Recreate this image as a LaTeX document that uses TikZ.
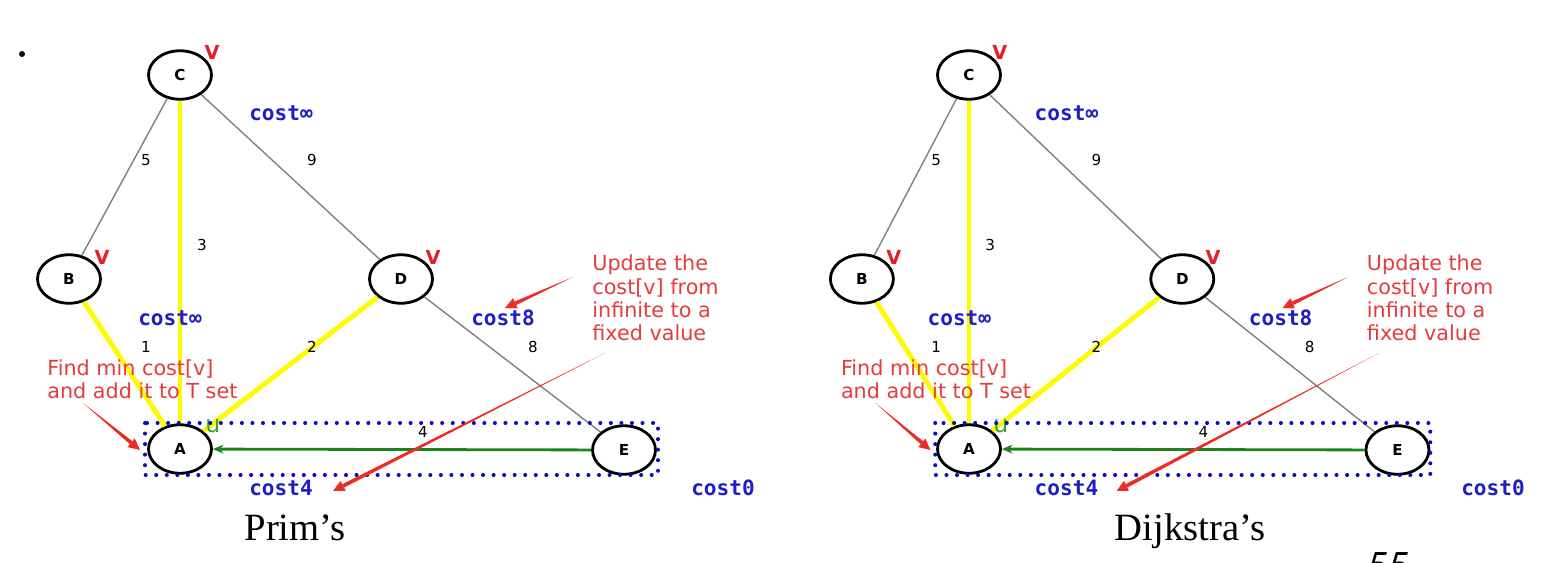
\documentclass[tikz,border=0pt]{standalone}
\usepackage{fontspec}
\setmainfont{Liberation Serif}
\setsansfont{DejaVu Sans}
\newfontfamily\costfont{DejaVu Sans Mono}
\newfontfamily\pagefont{Carlito}
\usetikzlibrary{shapes.geometric,arrows.meta,calc}
\definecolor{costblue}{RGB}{30,30,200}
\definecolor{dotblue}{RGB}{10,10,190}
\definecolor{markred}{RGB}{230,30,40}
\definecolor{notered}{RGB}{228,60,60}
\definecolor{arrowred}{RGB}{235,45,35}
\definecolor{pickgreen}{RGB}{30,130,30}
\definecolor{ugreen}{RGB}{60,160,60}
\definecolor{edgegray}{RGB}{128,128,128}
\definecolor{treeyellow}{RGB}{255,250,0}
\tikzset{
	% vertices of the graph
	vtx/.style={ellipse,draw=black,line width=1.6pt,fill=white,
		minimum width=1.26cm,minimum height=0.97cm,inner sep=0pt,
		font=\sffamily\bfseries\fontsize{8.6}{10}\selectfont},
	% edges not yet used, edges of the tree, the edge just picked
	lightedge/.style={draw=edgegray,line width=0.8pt},
	treeedge/.style={draw=treeyellow,line width=2.8pt},
	pickedge/.style={draw=pickgreen,line width=1.6pt,-{Stealth[length=6pt,width=5pt]}},
	% texts
	wlabel/.style={font=\sffamily\fontsize{8.6}{10}\selectfont},
	vmark/.style={text=markred,font=\sffamily\bfseries\fontsize{11}{12}\selectfont},
	costlbl/.style={text=costblue,font=\costfont\bfseries\fontsize{12}{13}\selectfont},
	note/.style={text=notered,align=left,anchor=west,inner sep=0pt,
		font=\sffamily\fontsize{11.8}{13.3}\selectfont},
	caption/.style={anchor=base,font=\fontsize{22}{26}\selectfont},
	% the T set
	tset/.style={draw=dotblue,line width=2.3pt,line cap=round,dash pattern=on 0pt off 6pt},
}
% red arrow getting thicker towards its tip
\newcommand{\notearrow}[2]{%
	\coordinate (nbase) at ($(#2)!6.5pt!(#1)$);
	\fill[arrowred] (#1) -- ($(nbase)!1.1pt!90:(#1)$) -- ($(nbase)!1.1pt!-90:(#1)$) -- cycle;
	\fill[arrowred] (#2) -- ($(nbase)!3.2pt!90:(#1)$) -- ($(nbase)!3.2pt!-90:(#1)$) -- cycle;
}
\begin{document}
\begin{tikzpicture}[x=0.02cm,y=-0.02cm]
	\useasboundingbox (0,0) rectangle (1545,562);
	\fill (22,54) circle (1.7pt);
	\foreach \p/\sx/\k in {L/180/1,R/969/0.965}{
	\begin{scope}[shift={(\sx,0)},xscale=\k,shift={(-180,0)}]
		\node[vtx] (C\p) at (180,75) {C};
		\node[vtx] (B\p) at (69,279) {B};
		\node[vtx] (D\p) at (401,279) {D};
		\node[vtx] (A\p) at (180,449) {A};
		\node[vtx] (E\p) at (624,450) {E};
		\draw[lightedge] (C\p) -- (B\p);
		\draw[lightedge] (C\p) -- (D\p);
		\draw[lightedge] (D\p) -- (E\p);
		\draw[treeedge] (C\p) -- (A\p);
		\draw[treeedge] (B\p) -- (A\p);
		\draw[treeedge] (D\p) -- (A\p);
		\draw[pickedge] (E\p) -- (A\p);
		\node[wlabel] (w5\p) at (146,160) {5};
		\node[wlabel] (w9\p) at (312,160) {9};
		\node[wlabel] (w3\p) at (202,245) {3};
		\node[wlabel] (w1\p) at (146,347) {1};
		\node[wlabel] (w2\p) at (312,347) {2};
		\node[wlabel] (w8\p) at (533,347) {8};
		\node[wlabel] (w4\p) at (423,432) {4};
		\node[vmark] (vc\p) at (212,52) {V};
		\node[vmark] (vb\p) at (102,257) {V};
		\node[vmark] (vd\p) at (433,257) {V};
		\node[text=ugreen,font=\sffamily\fontsize{13.5}{14}\selectfont] (u\p) at (213,426) {u};
		\node[costlbl] (kc\p) at (281,113) {cost∞};
		\node[costlbl] (kb\p) at (170,318) {cost∞};
		\node[costlbl] (kd\p) at (503,318) {cost8};
		\node[costlbl] (ka\p) at (281,488) {cost4};
		\node[costlbl] (ke\p) at (723,488) {cost0};
		\draw[tset] (145,423) rectangle (658,475);
		\node[note] (find\p) at (47,379) {Find min cost[v]\\and add it to T set};
		\node[note] (upd\p) at (592,298) {Update the\\cost[v] from\\infinite to a\\fixed value};
		\coordinate (fa\p) at (83,403);
		\coordinate (fb\p) at (140,450);
		\coordinate (ua\p) at (605,353);
		\coordinate (ub\p) at (333,491);
		\coordinate (ka\p) at (573,277);
		\coordinate (kb\p) at (505,308);
		\notearrow{fa\p}{fb\p}
		\notearrow{ua\p}{ub\p}
		\notearrow{ka\p}{kb\p}
	\end{scope}
	}
	\node[caption] (prim) at (295,540) {Prim’s};
	\node[caption] (dijk) at (1190,540) {Dijkstra’s};
	\node[anchor=north,inner sep=0pt,font=\pagefont\itshape\fontsize{23}{26}\selectfont] (pageno) at (1388,552) {55};
\end{tikzpicture}
\end{document}
